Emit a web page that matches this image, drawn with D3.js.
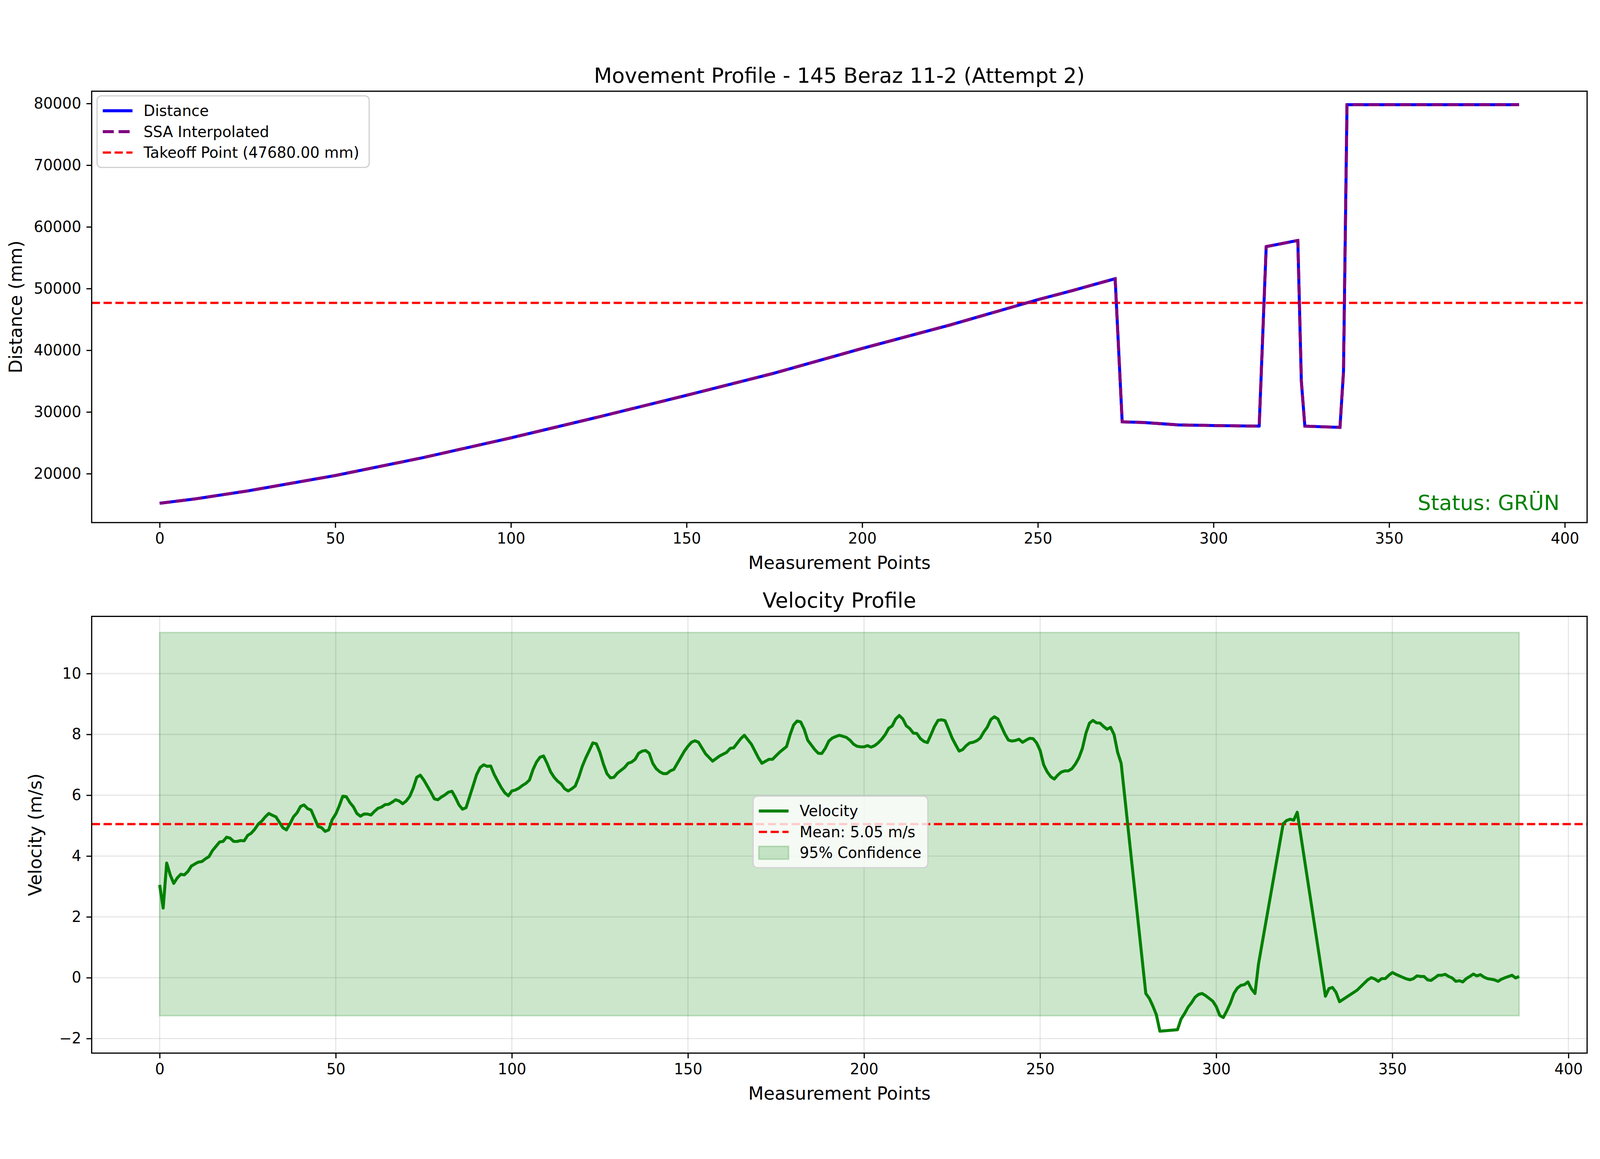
<!DOCTYPE html>
<html lang="en">
<head>
<meta charset="UTF-8">
<title>Movement Profile</title>
<style>
  html, body { margin: 0; padding: 0; background: #fff; overflow: hidden; font-family: "DejaVu Sans", sans-serif; }
  #chart { display: block; width: 100vw; height: 100vh; }
  svg text { font-family: "DejaVu Sans", sans-serif; }
</style>
</head>
<body>
<svg id="chart" viewBox="0 0 4468 2968" preserveAspectRatio="xMidYMid meet"></svg>
<script src="https://d3js.org/d3.v7.min.js"></script>
<script>
// distance samples [index, mm]
const distancePoints = [
  [0,15200],[10,15900],[25,17200],[50,19700],[75,22600],[100,25800],[125,29200],
  [150,32700],[175,36300],[200,40300],[225,44100],[250,48200],[260,49700],[265,50500],
  [272,51600],[274,28400],[280,28300],[290,27900],[300,27800],[313,27700],[315,56800],
  [324,57800],[325,35000],[326,27700],[336,27500],[337,36500],[338,79800],[387,79800]
];
const takeoff = 47680;
const status = "Status: GRÜN";

// velocity samples [index, m/s]
const velocityPoints = [
  [0,3.05],[1,2.29],[2,3.77],[3,3.38],[4,3.10],[5,3.28],[6,3.40],[7,3.38],[8,3.49],[9,3.67],
  [10,3.74],[11,3.80],[12,3.82],[13,3.91],[14,3.98],[15,4.18],[16,4.32],[17,4.46],[18,4.48],[19,4.62],
  [20,4.59],[21,4.48],[22,4.48],[23,4.51],[24,4.50],[25,4.68],[26,4.75],[27,4.88],[28,5.05],[29,5.15],
  [30,5.29],[31,5.40],[32,5.34],[33,5.29],[34,5.11],[35,4.93],[36,4.86],[37,5.06],[38,5.29],[39,5.42],
  [40,5.63],[41,5.68],[42,5.56],[43,5.51],[44,5.24],[45,4.97],[46,4.93],[47,4.81],[48,4.86],[49,5.20],
  [50,5.38],[51,5.65],[52,5.97],[53,5.95],[54,5.76],[55,5.62],[56,5.40],[57,5.31],[58,5.38],[59,5.38],
  [60,5.35],[61,5.47],[62,5.57],[63,5.61],[64,5.69],[65,5.70],[66,5.77],[67,5.85],[68,5.81],[69,5.72],
  [70,5.81],[71,5.96],[72,6.23],[73,6.59],[74,6.66],[75,6.50],[76,6.30],[77,6.10],[78,5.88],[79,5.85],
  [80,5.94],[81,6.01],[82,6.10],[83,6.13],[84,5.92],[85,5.68],[86,5.54],[87,5.59],[88,5.95],[89,6.31],
  [90,6.68],[91,6.91],[92,7.00],[93,6.95],[94,6.96],[95,6.68],[96,6.46],[97,6.25],[98,6.08],[99,5.98],
  [100,6.14],[101,6.17],[102,6.23],[103,6.32],[104,6.39],[105,6.50],[106,6.84],[107,7.09],[108,7.25],[109,7.29],
  [110,7.05],[111,6.77],[112,6.59],[113,6.46],[114,6.37],[115,6.21],[116,6.14],[117,6.21],[118,6.30],[119,6.59],
  [120,6.95],[121,7.23],[122,7.47],[123,7.72],[124,7.69],[125,7.41],[126,7.02],[127,6.71],[128,6.57],[129,6.59],
  [130,6.73],[131,6.82],[132,6.91],[133,7.05],[134,7.09],[135,7.18],[136,7.38],[137,7.45],[138,7.47],[139,7.38],
  [140,7.05],[141,6.87],[142,6.77],[143,6.71],[144,6.71],[145,6.80],[146,6.85],[147,7.05],[148,7.25],[149,7.45],
  [150,7.61],[151,7.74],[152,7.79],[153,7.74],[155,7.36],[157,7.12],[159,7.29],[161,7.41],[162,7.54],[163,7.56],
  [165,7.86],[166,7.97],[168,7.68],[170,7.23],[171,7.05],[173,7.18],[174,7.18],[176,7.41],[178,7.60],[179,7.99],
  [180,8.31],[181,8.44],[182,8.41],[183,8.17],[184,7.81],[186,7.50],[187,7.38],[188,7.37],[189,7.54],[190,7.78],
  [191,7.88],[192,7.93],[193,7.97],[195,7.90],[196,7.81],[197,7.68],[198,7.61],[199,7.59],[200,7.59],[201,7.63],
  [202,7.58],[203,7.63],[204,7.72],[205,7.84],[206,7.99],[207,8.20],[208,8.28],[209,8.51],[210,8.62],[211,8.51],
  [212,8.28],[213,8.19],[214,8.04],[215,8.03],[216,7.86],[217,7.77],[218,7.73],[219,7.99],[220,8.26],[221,8.46],
  [222,8.48],[223,8.45],[224,8.17],[225,7.88],[226,7.66],[227,7.45],[228,7.50],[229,7.63],[230,7.72],[231,7.74],
  [232,7.79],[233,7.88],[234,8.08],[235,8.24],[236,8.49],[237,8.58],[238,8.51],[239,8.26],[240,8.01],[241,7.81],
  [242,7.78],[243,7.80],[244,7.84],[245,7.74],[246,7.81],[247,7.87],[248,7.86],[249,7.72],[250,7.47],[251,7.00],
  [252,6.77],[253,6.61],[254,6.53],[255,6.66],[256,6.76],[257,6.80],[258,6.80],[259,6.87],[260,7.02],[261,7.23],
  [262,7.54],[263,8.04],[264,8.37],[265,8.46],[266,8.38],[267,8.37],[268,8.26],[269,8.17],[270,8.23],[271,7.99],
  [272,7.41],[273,7.05],[280,-0.52],[281,-0.68],[282,-0.93],[283,-1.22],[284,-1.76],[289,-1.71],[290,-1.36],
  [291,-1.18],[292,-0.97],[293,-0.82],[294,-0.64],[295,-0.55],[296,-0.52],[297,-0.59],[298,-0.68],[299,-0.77],
  [300,-0.95],[301,-1.24],[302,-1.31],[303,-1.09],[304,-0.84],[305,-0.52],[306,-0.34],[307,-0.25],[308,-0.23],
  [309,-0.14],[310,-0.37],[311,-0.52],[312,0.45],[319,5.06],[320,5.17],[321,5.21],[322,5.18],[323,5.44],
  [331,-0.61],[332,-0.36],[333,-0.32],[334,-0.48],[335,-0.79],[340,-0.41],[343,-0.07],[344,0.0],[345,-0.04],
  [346,-0.12],[347,-0.03],[348,-0.03],[349,0.08],[350,0.17],[351,0.11],[352,0.06],[353,0.01],[354,-0.04],
  [355,-0.07],[356,-0.03],[357,0.06],[358,0.04],[359,0.04],[360,-0.07],[361,-0.09],[362,-0.01],[363,0.08],
  [364,0.08],[365,0.11],[366,0.04],[367,-0.01],[368,-0.12],[369,-0.10],[370,-0.14],[371,-0.03],[372,0.04],
  [373,0.12],[374,0.06],[375,0.10],[376,0.02],[377,-0.03],[378,-0.05],[379,-0.07],[380,-0.12],[381,-0.05],
  [382,0.0],[383,0.04],[384,0.08],[385,-0.01],[386,0.04]
];
const velocityMean = 5.05;
const confBand = [-1.25, 11.35];
const confRange = [0, 386];

const pt = 300 / 72; // matplotlib points -> px at this dpi
const svg = d3.select("#chart");
const L = 256, R = 4432;

function drawGrid(g, x, y, top, bottom, yTicks) {
  g.append("g").selectAll("line").data(d3.range(0, 401, 50)).join("line")
    .attr("x1", d => x(d)).attr("x2", d => x(d)).attr("y1", top).attr("y2", bottom)
    .attr("stroke", "#b0b0b0").attr("stroke-opacity", 0.3).attr("stroke-width", 0.8 * pt);
  g.append("g").selectAll("line").data(yTicks).join("line")
    .attr("x1", L).attr("x2", R).attr("y1", d => y(d)).attr("y2", d => y(d))
    .attr("stroke", "#b0b0b0").attr("stroke-opacity", 0.3).attr("stroke-width", 0.8 * pt);
}

function finishAxes(g, x, y, top, bottom, yTicks, yFormat) {
  const xAxis = d3.axisBottom(x).tickValues(d3.range(0, 401, 50)).tickSize(3.5 * pt).tickPadding(3.5 * pt);
  const yAxis = d3.axisLeft(y).tickValues(yTicks).tickSize(3.5 * pt).tickPadding(3.5 * pt).tickFormat(yFormat);
  const gx = g.append("g").attr("transform", `translate(0,${bottom})`).call(xAxis);
  const gy = g.append("g").attr("transform", `translate(${L},0)`).call(yAxis);
  [gx, gy].forEach(a => {
    a.select(".domain").remove();
    a.selectAll(".tick line").attr("stroke", "#000").attr("stroke-width", 0.8 * pt);
    a.selectAll(".tick text").attr("font-size", 10 * pt).attr("fill", "#000");
  });
  g.append("rect").attr("x", L).attr("y", top).attr("width", R - L).attr("height", bottom - top)
    .attr("fill", "none").attr("stroke", "#000").attr("stroke-width", 0.8 * pt);
}

function legend(g, x0, y0, w, items) {
  const fs = 10 * pt, rowH = fs * 1.4, h = items.length * rowH + fs * 0.6;
  g.append("rect").attr("x", x0).attr("y", y0).attr("width", w).attr("height", h).attr("rx", 12)
    .attr("fill", "#fff").attr("fill-opacity", 0.8).attr("stroke", "#d0d0d0").attr("stroke-width", 0.8 * pt);
  items.forEach((it, i) => {
    const cy = y0 + fs * 0.3 + rowH * (i + 0.5);
    if (it.patch) {
      g.append("rect").attr("x", x0 + 16).attr("y", cy - 18).attr("width", 83).attr("height", 36)
        .attr("fill", it.color).attr("fill-opacity", 0.2).attr("stroke", it.color).attr("stroke-opacity", 0.2)
        .attr("stroke-width", 1 * pt);
    } else {
      g.append("line").attr("x1", x0 + 16).attr("x2", x0 + 99).attr("y1", cy).attr("y2", cy)
        .attr("stroke", it.color).attr("stroke-width", it.width * pt)
        .attr("stroke-dasharray", it.dash ? it.dash.map(v => v * pt).join(",") : null);
    }
    g.append("text").attr("x", x0 + 130).attr("y", cy).attr("dy", "0.35em")
      .attr("font-size", fs).text(it.label);
  });
}

// ---------- top: distance ----------
{
  const top = 120, bottom = 1325;
  const x = d3.scaleLinear().domain([-19.35, 406.35]).range([L, R]);
  const y = d3.scaleLinear().domain([12070, 81990]).range([bottom, top]);
  const yTicks = d3.range(20000, 80001, 10000);
  const g = svg.append("g");
  const line = d3.line().x(d => x(d[0])).y(d => y(d[1]));
  g.append("line").attr("x1", L).attr("x2", R).attr("y1", y(takeoff)).attr("y2", y(takeoff))
    .attr("stroke", "red").attr("stroke-width", 1.5 * pt).attr("stroke-dasharray", `${3.7 * 1.5 * pt},${1.6 * 1.5 * pt}`);
  g.append("path").datum(distancePoints).attr("d", line).attr("fill", "none")
    .attr("stroke", "blue").attr("stroke-width", 2 * pt).attr("stroke-linejoin", "round");
  g.append("path").datum(distancePoints).attr("d", line).attr("fill", "none")
    .attr("stroke", "purple").attr("stroke-width", 2 * pt).attr("stroke-dasharray", `${3.7 * 2 * pt},${1.6 * 2 * pt}`);
  finishAxes(g, x, y, top, bottom, yTicks, d3.format("d"));
  legend(g, 271, 133, 760, [
    { label: "Distance", color: "blue", width: 2 },
    { label: "SSA Interpolated", color: "purple", width: 2, dash: [7.4, 3.2] },
    { label: `Takeoff Point (${takeoff.toFixed(2)} mm)`, color: "red", width: 1.5, dash: [5.5, 2.4] }
  ]);
  g.append("text").attr("x", (L + R) / 2).attr("y", top - 24).attr("text-anchor", "middle")
    .attr("font-size", 14 * pt).text("Movement Profile - 145 Beraz 11-2 (Attempt 2)");
  g.append("text").attr("x", (L + R) / 2).attr("y", bottom + 130).attr("text-anchor", "middle")
    .attr("font-size", 12 * pt).text("Measurement Points");
  g.append("text").attr("transform", `translate(${L - 195},${(top + bottom) / 2}) rotate(-90)`)
    .attr("text-anchor", "middle").attr("font-size", 12 * pt).text("Distance (mm)");
  g.append("text").attr("x", 4355).attr("y", 1290).attr("text-anchor", "end")
    .attr("font-size", 14 * pt).attr("fill", "green").text(status);
}

// ---------- bottom: velocity ----------
{
  const top = 1587, bottom = 2807;
  const x = d3.scaleLinear().domain([-19.3, 405.3]).range([L, R]);
  const y = d3.scaleLinear().domain([-2.48, 11.88]).range([bottom, top]);
  const yTicks = d3.range(-2, 11, 2);
  const g = svg.append("g");
  drawGrid(g, x, y, top, bottom, yTicks);
  g.append("rect").attr("x", x(confRange[0])).attr("y", y(confBand[1]))
    .attr("width", x(confRange[1]) - x(confRange[0])).attr("height", y(confBand[0]) - y(confBand[1]))
    .attr("fill", "green").attr("fill-opacity", 0.2).attr("stroke", "green").attr("stroke-opacity", 0.2).attr("stroke-width", 1 * pt);
  g.append("line").attr("x1", L).attr("x2", R).attr("y1", y(velocityMean)).attr("y2", y(velocityMean))
    .attr("stroke", "red").attr("stroke-width", 1.5 * pt).attr("stroke-dasharray", `${3.7 * 1.5 * pt},${1.6 * 1.5 * pt}`);
  g.append("path").datum(velocityPoints).attr("d", d3.line().x(d => x(d[0])).y(d => y(d[1])))
    .attr("fill", "none").attr("stroke", "green").attr("stroke-width", 2 * pt).attr("stroke-linejoin", "round");
  finishAxes(g, x, y, top, bottom, yTicks, d => d < 0 ? "\u2212" + Math.abs(d) : d);
  legend(g, 2103, 2089, 488, [
    { label: "Velocity", color: "green", width: 2 },
    { label: `Mean: ${velocityMean.toFixed(2)} m/s`, color: "red", width: 1.5, dash: [5.5, 2.4] },
    { label: "95% Confidence", color: "green", patch: true }
  ]);
  g.append("text").attr("x", (L + R) / 2).attr("y", top - 24).attr("text-anchor", "middle")
    .attr("font-size", 14 * pt).text("Velocity Profile");
  g.append("text").attr("x", (L + R) / 2).attr("y", bottom + 130).attr("text-anchor", "middle")
    .attr("font-size", 12 * pt).text("Measurement Points");
  g.append("text").attr("transform", `translate(${L - 140},${(top + bottom) / 2}) rotate(-90)`)
    .attr("text-anchor", "middle").attr("font-size", 12 * pt).text("Velocity (m/s)");
}
</script>
</body>
</html>
